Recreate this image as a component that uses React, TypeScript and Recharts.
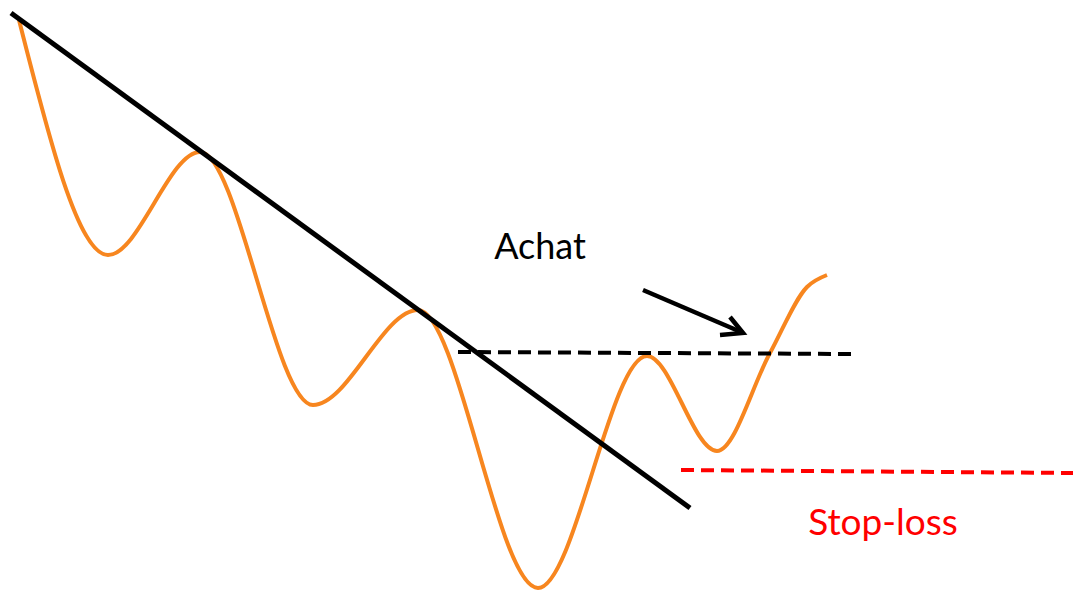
import { LineChart, Line, XAxis, YAxis, ReferenceDot } from "recharts";

// orange price path, turning points plus a few read-off points (x in time units, y in price units)
const priceX = [19, 108, 200, 313, 418, 538, 647, 717, 770, 807, 827];
const priceY = [572, 337, 440, 187, 282, 4, 236, 141, 239, 305, 317];

// downward trendline touching the highs
const trendX = [11, 690];
const trendY = [579, 84];

// breakout level (last high) and stop-loss level
const breakoutX = [458, 853];
const breakoutY = [240, 238];
const stopX = [681, 1073];
const stopY = [122, 119];

// arrow pointing at the buy signal
const arrowX = [643, 741];
const arrowY = [302, 260];
const headX = [730, 743, 720];
const headY = [275, 259, 257];

const toPoints = (xs: number[], ys: number[]) => xs.map((x, i) => ({ x, y: ys[i] }));

const FONT = "Lato, Carlito, 'Open Sans', sans-serif";

export default function App() {
  return (
    <div style={{ position: "fixed", top: 0, left: 0, background: "#fff" }}>
      <LineChart width={1073} height={592} margin={{ top: 0, right: 0, bottom: 0, left: 0 }}>
        <XAxis type="number" dataKey="x" domain={[0, 1073]} hide allowDataOverflow />
        <YAxis type="number" dataKey="y" domain={[0, 592]} hide allowDataOverflow />

        <Line
          data={toPoints(priceX, priceY)}
          dataKey="y"
          type="monotone"
          stroke="#f7861f"
          strokeWidth={4}
          dot={false}
          activeDot={false}
          isAnimationActive={false}
        />
        <Line
          data={toPoints(trendX, trendY)}
          dataKey="y"
          type="linear"
          stroke="#000"
          strokeWidth={5}
          dot={false}
          activeDot={false}
          isAnimationActive={false}
        />
        <Line
          data={toPoints(breakoutX, breakoutY)}
          dataKey="y"
          type="linear"
          stroke="#000"
          strokeWidth={4}
          strokeDasharray="13 7"
          dot={false}
          activeDot={false}
          isAnimationActive={false}
        />
        <Line
          data={toPoints(stopX, stopY)}
          dataKey="y"
          type="linear"
          stroke="#ff0000"
          strokeWidth={4}
          strokeDasharray="13 7"
          dot={false}
          activeDot={false}
          isAnimationActive={false}
        />
        <Line
          data={toPoints(arrowX, arrowY)}
          dataKey="y"
          type="linear"
          stroke="#000"
          strokeWidth={4.5}
          dot={false}
          activeDot={false}
          isAnimationActive={false}
        />
        <Line
          data={toPoints(headX, headY)}
          dataKey="y"
          type="linear"
          stroke="#000"
          strokeWidth={4.5}
          dot={false}
          activeDot={false}
          isAnimationActive={false}
        />

        <ReferenceDot
          x={540}
          y={346}
          r={0}
          stroke="none"
          label={{ value: "Achat", position: "center", fill: "#000", fontSize: 36, fontFamily: FONT }}
        />
        <ReferenceDot
          x={883}
          y={70}
          r={0}
          stroke="none"
          label={{ value: "Stop-loss", position: "center", fill: "#ff0000", fontSize: 37, fontFamily: FONT }}
        />
      </LineChart>
    </div>
  );
}
